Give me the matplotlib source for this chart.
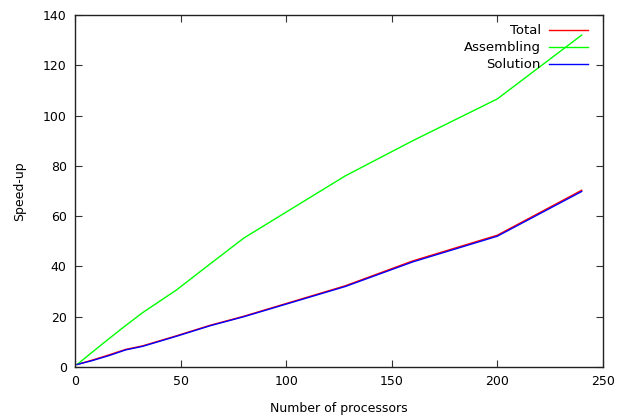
import matplotlib
matplotlib.use('Agg')
import matplotlib.pyplot as plt

# Speed-up values
procs = [1, 8, 16, 24, 32, 48, 64, 80, 128, 160, 200, 240]
total = [1, 2.7, 4.8, 7.0, 8.4, 12.4, 16.6, 20.2, 32.3, 42.2, 52.4, 70.3]
assembling = [1, 5.8, 11.2, 16.5, 21.6, 30.6, 41, 51.3, 76, 90, 106.6, 132]
solution = [1, 2.5, 4.5, 6.8, 8.2, 12.2, 16.4, 20, 32, 41.8, 52, 69.8]

plt.rcParams['font.family'] = 'DejaVu Sans'
plt.rcParams['font.size'] = 9

fig = plt.figure(figsize=(6.17, 4.16), dpi=100)
ax = fig.add_axes([0.1216, 0.1178, 0.977 - 0.1216, 0.964 - 0.1178])

ax.plot(procs, total, color='#ff0000', lw=1, label='Total')
ax.plot(procs, assembling, color='#00ff00', lw=1, label='Assembling')
ax.plot(procs, solution, color='#0000ff', lw=1, label='Solution')

ax.set_xlim(0, 250)
ax.set_ylim(0, 140)
ax.set_xticks(range(0, 251, 50))
ax.set_yticks(range(0, 141, 20))
ax.tick_params(direction='in', top=True, right=True, length=5, width=0.8,
               pad=6, color='#333333')
for s in ax.spines.values():
    s.set_linewidth(1)
    s.set_color('#222222')

ax.set_xlabel('Number of processors', labelpad=10)
ax.set_ylabel('Speed-up', labelpad=12)

leg = ax.legend(loc='upper right', bbox_to_anchor=(0.99, 1.0), frameon=False,
                markerfirst=False, handlelength=3.0, handletextpad=0.6,
                labelspacing=0.3, borderaxespad=0.3, fontsize=9.5)
for t in leg.get_texts():
    t.set_ha('right')
leg._legend_box.align = 'right'

fig.savefig('out.png', dpi=100)
